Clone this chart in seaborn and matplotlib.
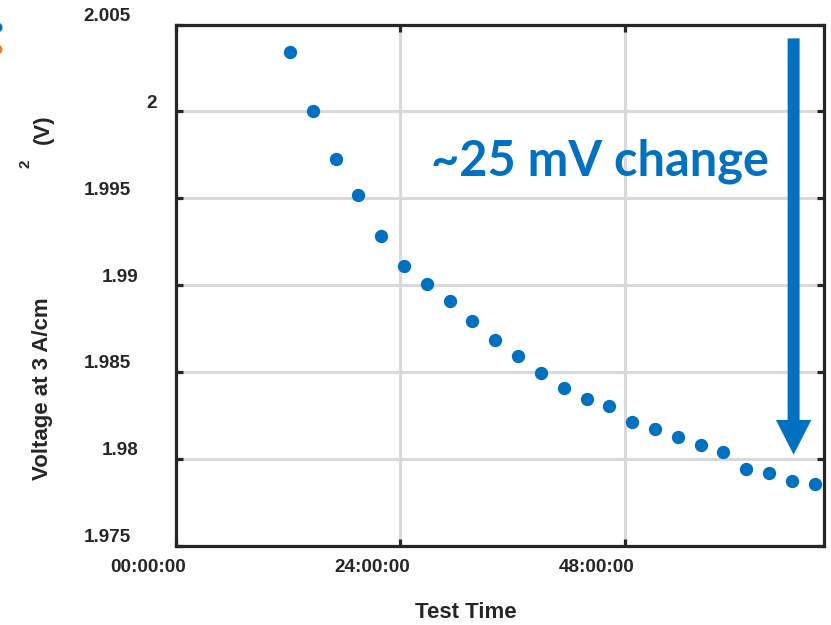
import matplotlib
matplotlib.use("Agg")
import matplotlib.pyplot as plt
import matplotlib.transforms as mtransforms
from matplotlib.lines import Line2D
from matplotlib.patches import FancyArrowPatch
import pandas as pd
import seaborn as sns

# Cell voltage at 3 A/cm2 over the test (time in hours since start)
test_hours = [12.14, 14.61, 17.07, 19.50, 21.96, 24.37, 26.80, 29.26,
              31.69, 34.15, 36.57, 39.03, 41.45, 43.91, 46.35, 48.76,
              51.22, 53.68, 56.11, 58.54, 61.00, 63.41, 65.87, 68.30]
voltage = [2.00339, 2.00000, 1.99723, 1.99519, 1.99284, 1.99111, 1.99004, 1.98909,
           1.98791, 1.98682, 1.98591, 1.98491, 1.98408, 1.98341, 1.98306, 1.98210,
           1.98168, 1.98127, 1.98079, 1.98041, 1.97938, 1.97919, 1.97869, 1.97854]

x_ticks = [0, 24, 48]
x_tick_labels = ["00:00:00", "24:00:00", "48:00:00"]
y_ticks = [1.975, 1.98, 1.985, 1.99, 1.995, 2.0, 2.005]
y_tick_labels = ["1.975", "1.98", "1.985", "1.99", "1.995", "2", "2.005"]

# annotation: total drop marker
arrow_hour = 66.05
arrow_top, arrow_tip = 2.0042, 1.98023
note_text = "~25 mV change"

BLUE = "#0070C0"
ORANGE = "#ED7D31"
INK = "#262626"
GRID = "#d9d9d9"

sns.set_theme(style="white")
plt.rcParams["font.family"] = ["Liberation Sans", "DejaVu Sans"]

W, H = 831, 625
fig = plt.figure(figsize=(W / 100, H / 100), dpi=100)
ax = fig.add_axes([176 / W, 1 - 545.5 / H, (824 - 176) / W, (545.5 - 24.5) / H])

df = pd.DataFrame({"hours": test_hours, "voltage": voltage})
sns.scatterplot(data=df, x="hours", y="voltage", ax=ax, color=BLUE, s=92,
                linewidth=0, zorder=3, legend=False)

ax.set_xlim(0, 69.3)
ax.set_ylim(1.975, 2.005)
ax.set_xticks(x_ticks)
ax.set_yticks(y_ticks)
ax.set_xticklabels([])
ax.set_yticklabels([])
ax.set_xlabel("")
ax.set_ylabel("")
ax.grid(True, color=GRID, lw=2.2)
ax.set_axisbelow(True)
for sp in ax.spines.values():
    sp.set_visible(True)
    sp.set_color(INK)
    sp.set_linewidth(2.3)
    sp.set_zorder(4)
ax.tick_params(direction="in", length=5, width=2.3, color=INK,
               top=True, right=True, bottom=True, left=True)

tick_font = dict(fontsize=13.6, fontweight="bold", color=INK)

# x tick labels, set slightly to the left of their ticks
xt = mtransforms.blended_transform_factory(ax.transData, ax.transAxes) + \
    mtransforms.ScaledTranslation(-0.28, -0.225, fig.dpi_scale_trans)
for v, lab in zip(x_ticks, x_tick_labels):
    ax.text(v, 0, lab, transform=xt, ha="center", va="center", **tick_font)

# y tick labels
yt = mtransforms.blended_transform_factory(fig.transFigure, ax.transData) + \
    mtransforms.ScaledTranslation(0, 0.08, fig.dpi_scale_trans)
ylabels = []
for v, lab in zip(y_ticks, y_tick_labels):
    ylabels.append(fig.text(164 / W, v, lab, transform=yt, ha="right",
                            va="center", **tick_font))
fig.canvas.draw()
renderer = fig.canvas.get_renderer()
for t in ylabels:
    w = t.get_window_extent(renderer).width
    t.set_x((164 - 0.7 * w) / W)

# axis titles
label_font = dict(fontsize=16, fontweight="bold", color=INK)
fig.text(466 / W, 1 - 613 / H, "Test Time", ha="center", va="center", **label_font)
fig.text(43 / W, 1 - 389 / H, "Voltage at 3 A/cm", rotation=90,
         ha="center", va="center", **label_font)
fig.text(25 / W, 1 - 164 / H, "2", rotation=90, ha="center", va="center",
         fontsize=11, fontweight="bold", color=INK)
fig.text(43 / W, 1 - 129 / H, "(V)", rotation=90, ha="center", va="center",
         **label_font)

# annotation arrow and text
arrow = FancyArrowPatch((arrow_hour, arrow_top), (arrow_hour, arrow_tip),
                        arrowstyle="simple,head_length=25,head_width=25.5,tail_width=8.6",
                        mutation_scale=1, color=BLUE, lw=0, zorder=5,
                        shrinkA=0, shrinkB=0)
ax.add_patch(arrow)
ax.text(45.3, 1.99629, note_text, ha="center", va="baseline", fontsize=35,
        fontweight="bold", color=BLUE, family=["Lato", "DejaVu Sans"], zorder=5)

# legend markers clipped at the left edge
for yp, c in [(27, BLUE), (49, ORANGE)]:
    fig.add_artist(Line2D([-3 / W], [1 - yp / H], marker="o", markersize=7.2,
                          color=c, markeredgewidth=0, linestyle="none",
                          transform=fig.transFigure, clip_on=False))

fig.savefig("out.png", dpi=100)
